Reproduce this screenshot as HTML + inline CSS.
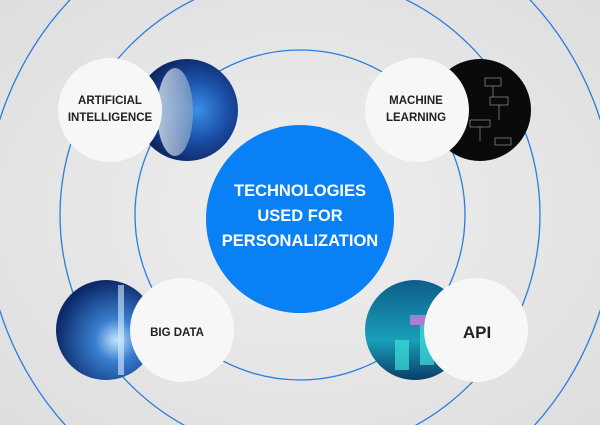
<!DOCTYPE html>
<html><head><meta charset="utf-8"><style>
html,body{margin:0;padding:0;width:600px;height:425px;overflow:hidden}
svg{display:block;overflow:hidden}
text{font-family:"Liberation Sans",sans-serif;font-weight:bold}
</style></head><body>
<svg width="600" height="425" viewBox="0 0 600 425" xmlns="http://www.w3.org/2000/svg">
<defs>
<radialGradient id="bg" cx="50%" cy="50%" r="70%">
<stop offset="0" stop-color="#efefef"/><stop offset="1" stop-color="#dedede"/>
</radialGradient>
<radialGradient id="ai" cx="60%" cy="50%" r="60%">
<stop offset="0" stop-color="#3a8fe8"/><stop offset="0.5" stop-color="#1b4fa8"/><stop offset="1" stop-color="#0a1f55"/>
</radialGradient>
<linearGradient id="face" x1="0" y1="0" x2="1" y2="0">
<stop offset="0" stop-color="#e8eef5"/><stop offset="1" stop-color="#7f9cc0"/>
</linearGradient>
<radialGradient id="bd" cx="60%" cy="60%" r="60%">
<stop offset="0" stop-color="#bfe3ff"/><stop offset="0.35" stop-color="#3a7fd0"/><stop offset="1" stop-color="#0c2a6a"/>
</radialGradient>
<linearGradient id="api" x1="0" y1="0" x2="0" y2="1">
<stop offset="0" stop-color="#0d5e8a"/><stop offset="0.6" stop-color="#1a9fb8"/><stop offset="1" stop-color="#0b3c66"/>
</linearGradient>
<clipPath id="c"><rect width="600" height="425"/></clipPath>
</defs>
<g clip-path="url(#c)">
<rect width="600" height="425" fill="url(#bg)"/>
<g fill="none" stroke="#2a7de1" stroke-width="1.3">
<circle cx="300" cy="215" r="165"/>
<circle cx="300" cy="215" r="240"/>
<circle cx="300" cy="215" r="315"/>
</g>
<circle cx="300" cy="219" r="94" fill="#0a80f5"/>
<g fill="#fff" font-size="16.5" text-anchor="middle">
<text x="300" y="196">TECHNOLOGIES</text>
<text x="300" y="221">USED FOR</text>
<text x="300" y="246">PERSONALIZATION</text>
</g>
<circle cx="187" cy="110" r="51" fill="url(#ai)"/>
<ellipse cx="175" cy="112" rx="18" ry="44" fill="url(#face)" opacity="0.75"/>
<circle cx="110" cy="110" r="52" fill="#f7f7f7"/>
<g fill="#222" font-size="11.5" text-anchor="middle">
<text x="110" y="104">ARTIFICIAL</text>
<text x="110" y="121">INTELLIGENCE</text>
</g>
<circle cx="480" cy="110" r="51" fill="#0a0a0a"/>
<g stroke="#aaa" stroke-width="0.6" fill="none">
<rect x="485" y="78" width="16" height="8"/><rect x="490" y="97" width="18" height="8"/><rect x="470" y="120" width="20" height="7"/><rect x="495" y="138" width="16" height="7"/><path d="M493 86v11M499 105v15M480 127v14"/>
</g>
<circle cx="417" cy="110" r="52" fill="#f7f7f7"/>
<g fill="#222" font-size="11.5" text-anchor="middle">
<text x="416" y="104">MACHINE</text>
<text x="416" y="121">LEARNING</text>
</g>
<circle cx="106" cy="330" r="50" fill="url(#bd)"/>
<rect x="118" y="285" width="6" height="90" fill="#d8efff" opacity="0.6"/>
<circle cx="182" cy="330" r="52" fill="#f7f7f7"/>
<text x="177" y="336" fill="#222" font-size="11.5" text-anchor="middle">BIG DATA</text>
<circle cx="415" cy="330" r="50" fill="url(#api)"/>
<rect x="395" y="340" width="14" height="30" fill="#3ee0e0" opacity="0.7"/>
<rect x="410" y="315" width="22" height="10" fill="#d07be0" opacity="0.8"/>
<rect x="420" y="325" width="14" height="40" fill="#3ee0e0" opacity="0.7"/>
<circle cx="476" cy="330" r="52" fill="#f7f7f7"/>
<text x="477" y="338" fill="#222" font-size="17" text-anchor="middle">API</text>
</g>
</svg>
</body></html>
